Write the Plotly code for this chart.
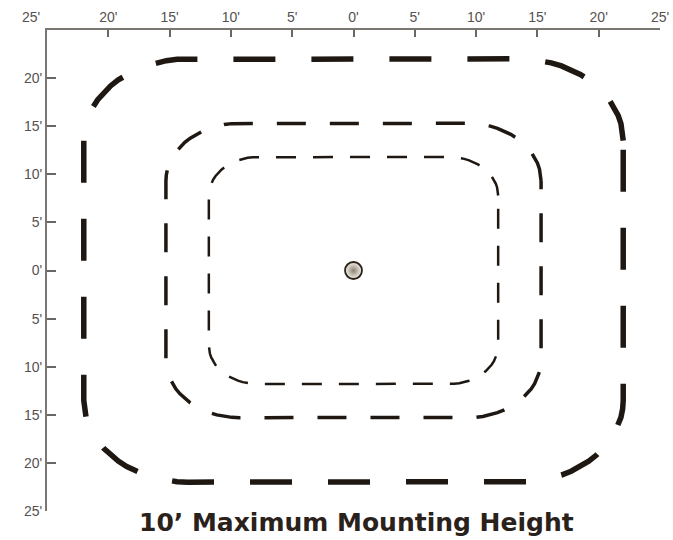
import numpy as np
import plotly.graph_objects as go

# distances in feet
tick_vals = [-25, -20, -15, -10, -5, 0, 5, 10, 15, 20, 25]
x_tick_labels = ["", "20'", "15'", "10'", "5'", "0'", "5'", "10'", "15'", "20'", "25'"]
y_tick_labels = ["25'", "20'", "15'", "10'", "5'", "0'", "5'", "10'", "15'", "20'", ""]

# coverage rings: half width and corner radius (ft)
ring_half = [11.8, 15.3, 22.0]
ring_radius = [4.0, 6.0, 8.5]

# fixture position
fixture_x = [0]
fixture_y = [0]

title_text = "10’ Maximum Mounting Height"

ring_styles = [
    dict(width=2.5, dash="20px,17px"),
    dict(width=3.5, dash="29px,24px"),
    dict(width=5.5, dash="42px,36px"),
]


def rounded_square(h, r, n=16):
    # corner centres, going counter-clockwise from the top-right
    xs, ys = [], []
    corners = [(h - r, h - r, 0), (-h + r, h - r, 90), (-h + r, -h + r, 180), (h - r, -h + r, 270)]
    for cx, cy, a0 in corners:
        t = np.radians(np.linspace(a0, a0 + 90, n))
        xs.extend(cx + r * np.cos(t))
        ys.extend(cy + r * np.sin(t))
    xs.append(xs[0])
    ys.append(ys[0])
    return xs, ys


fig = go.Figure()

for h, r, st in zip(ring_half, ring_radius, ring_styles):
    xs, ys = rounded_square(h, r)
    fig.add_trace(go.Scatter(x=xs, y=ys, mode="lines", hoverinfo="skip",
                             line=dict(color="#1f1812", width=st["width"], dash=st["dash"])))

fig.add_trace(go.Scatter(x=fixture_x, y=fixture_y, mode="markers", hoverinfo="skip",
                         marker=dict(size=17, color="#f6f3ec", symbol="circle",
                                     gradient=dict(type="radial", color="#8c8372"),
                                     line=dict(color="#2a2218", width=1.8))))

tick_font = dict(family="Liberation Sans", size=14, color="#555150")

fig.update_layout(
    width=673, height=540,
    margin=dict(l=47, r=13, t=30, b=29),
    plot_bgcolor="white", paper_bgcolor="white",
    showlegend=False,
    font=tick_font,
)
fig.update_xaxes(range=[-25, 25], side="top", tickvals=tick_vals, ticktext=x_tick_labels,
                 showgrid=False, zeroline=False, showline=True, linecolor="#7a7672", linewidth=2,
                 ticks="inside", ticklen=7, tickwidth=2, tickcolor="#6a6662",
                 automargin=False, fixedrange=True)
fig.update_yaxes(range=[-25, 25], tickvals=tick_vals, ticktext=y_tick_labels,
                 showgrid=False, zeroline=False, showline=True, linecolor="#7a7672", linewidth=2,
                 ticks="inside", ticklen=9, tickwidth=2, tickcolor="#6a6662",
                 automargin=False, fixedrange=True)

fig.add_annotation(x=-25, y=25, text="25'", showarrow=False, xanchor="right", yanchor="bottom",
                   xshift=-5, yshift=3, font=tick_font)
fig.add_annotation(x=0, y=0, xref="x", yref="paper", text="<b>" + title_text + "</b>", showarrow=False,
                   xanchor="center", yanchor="middle", yshift=-11, xshift=3,
                   font=dict(family="DejaVu Sans", size=25, color="#2b211b"))

# page body has a default margin; drop it so the chart fills the window
fig.write_html("out.html", config={"displayModeBar": False},
               post_script="document.body.style.margin='0';")
